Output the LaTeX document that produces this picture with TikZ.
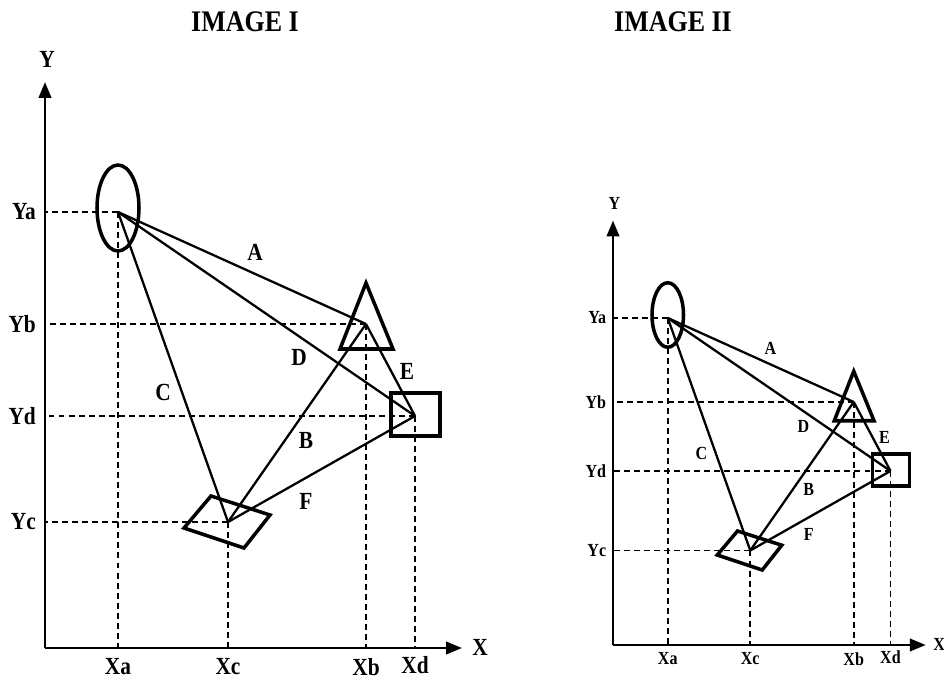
\documentclass[tikz,border=0pt]{standalone}
\usepackage{fontspec}
\setmainfont[FakeStretch=0.87]{Liberation Serif}
\usetikzlibrary{arrows.meta}
\tikzset{
    % Axis lines
    axisline/.style={
        -{Triangle[length=9pt,width=7pt]},
        line width=1.5pt
    },
    % Projection lines to the axes
    projline/.style={
        dash pattern=on 3.4pt off 2.3pt,
        line width=1.1pt
    },
    % Object outlines
    objshape/.style={
        line width=2pt
    },
    % Links between objects
    linkline/.style={
        line width=1.3pt
    },
    % Axis and tick labels
    ticklabel/.style={
        font=\bfseries\fontsize{14}{16}\selectfont,
        inner sep=1pt
    },
    % Link labels
    linklabel/.style={
        font=\bfseries\fontsize{14}{16}\selectfont,
        inner sep=0pt
    },
    % Titles
    titlelabel/.style={
        font=\bfseries\fontsize{17}{20}\selectfont
    }
}
\begin{document}
\begin{tikzpicture}[x=0.02cm, y=0.02cm]
    \useasboundingbox (0,0) rectangle (944,684);

    % Titles
    \node[titlelabel] (title1) at (245,662) {IMAGE I};
    \node[titlelabel] (title2) at (673,662) {IMAGE II};

    \foreach \im/\ox/\oy/\sc in {1/45/36/1, 2/613/39/0.75}{
    \begin{scope}[shift={(\ox,\oy)}, scale=\sc, transform shape]
        % Axes
        \coordinate (o\im) at (0,0);
        \coordinate (xend\im) at (417,0);
        \coordinate (yend\im) at (0,566);
        \draw[axisline] (o\im) -- (xend\im);
        \draw[axisline] (o\im) -- (yend\im);
        \node[ticklabel] (xlab\im) at (435,1) {X};
        \node[ticklabel] (ylab\im) at (2,589) {Y};

        % Object positions
        \coordinate (a\im) at (73,436);
        \coordinate (b\im) at (321,324);
        \coordinate (c\im) at (183,126);
        \coordinate (d\im) at (370,232);

        % Projections
        \foreach \p in {a,b,c,d}{
            \draw[projline] (\p\im) -- (\p\im |- o\im);
            \draw[projline] (\p\im) -- (\p\im -| o\im);
        }

        % Tick labels
        \node[ticklabel, anchor=east] (ya\im) at (-7,436) {Ya};
        \node[ticklabel, anchor=east] (yb\im) at (-7,324) {Yb};
        \node[ticklabel, anchor=east] (yd\im) at (-7,232) {Yd};
        \node[ticklabel, anchor=east] (yc\im) at (-7,126) {Yc};
        \node[ticklabel, anchor=north] (xa\im) at (73,-8) {Xa};
        \node[ticklabel, anchor=north] (xc\im) at (183,-8) {Xc};
        \node[ticklabel, anchor=north] (xb\im) at (321,-8) {Xb};
        \node[ticklabel, anchor=north] (xd\im) at (370,-6) {Xd};

        % Objects
        \draw[objshape] (a\im) ++(0,4) ellipse (21 and 43);
        \draw[objshape] (b\im) ++(0,41) -- ++(-26,-66) -- ++(53,0) -- cycle;
        \draw[objshape] (d\im) ++(-24,-20) rectangle ++(49,43);
        \draw[objshape] (c\im) ++(-44,-6) -- ++(27,32) -- ++(59,-19) -- ++(-26,-33) -- cycle;

        % Links
        \draw[linkline] (a\im) -- (b\im);
        \draw[linkline] (a\im) -- (d\im);
        \draw[linkline] (a\im) -- (c\im);
        \draw[linkline] (c\im) -- (b\im);
        \draw[linkline] (b\im) -- (d\im);
        \draw[linkline] (c\im) -- (d\im);

        % Link labels
        \node[linklabel] (la\im) at (210,396) {A};
        \node[linklabel] (ld\im) at (254,291) {D};
        \node[linklabel] (le\im) at (362,277) {E};
        \node[linklabel] (lc\im) at (118,256) {C};
        \node[linklabel] (lb\im) at (261,208) {B};
        \node[linklabel] (lf\im) at (261,147) {F};
    \end{scope}}
\end{tikzpicture}
\end{document}
